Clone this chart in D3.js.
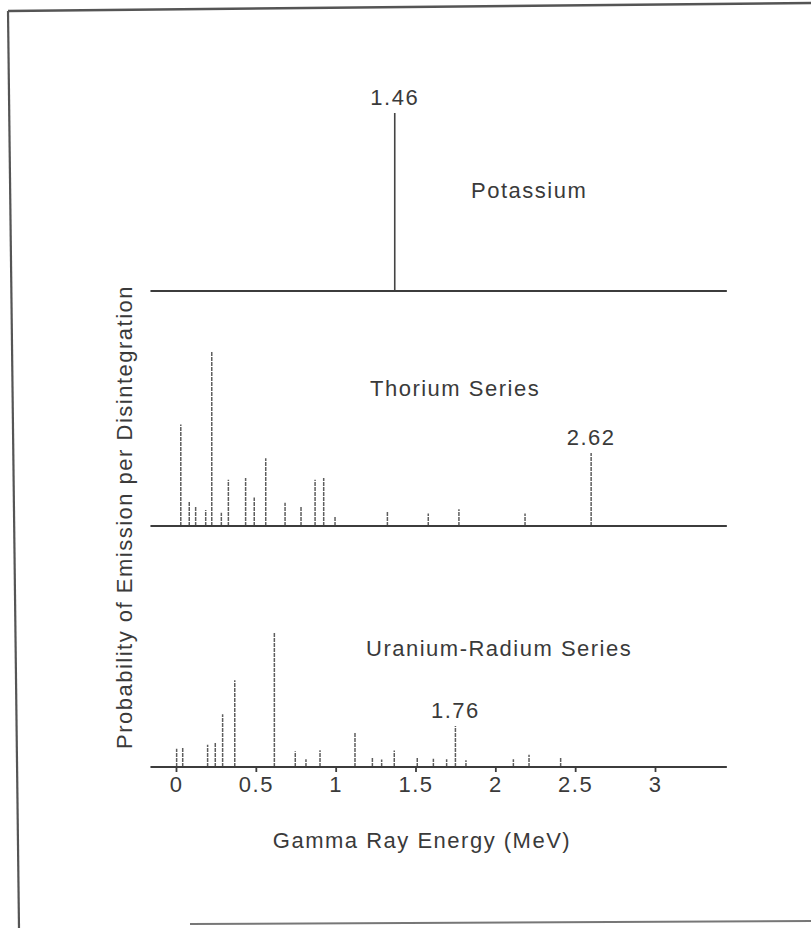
<!DOCTYPE html>
<html>
<head>
<meta charset="utf-8">
<script src="https://cdn.jsdelivr.net/npm/d3@7"></script>
<style>
  body { margin: 0; background: #fff; }
  text { font-family: "Liberation Sans", Arial, sans-serif; fill: #3a3a3a; }
  .label { font-size: 22px; letter-spacing: 1.5px; }
  .line { stroke: #5e5e5e; stroke-width: 1.5; stroke-dasharray: 4,1; }
  .solid { stroke: #444; stroke-width: 1.6; }
  .base { stroke: #3c3c3c; stroke-width: 2.2; }
</style>
</head>
<body>
<div id="chart"></div>
<script>
// energies (MeV) and relative emission probability
const potassiumE = [1.37];
const potassiumP = [100];

const thoriumE = [0.03, 0.083, 0.123, 0.186, 0.224, 0.284, 0.328, 0.436, 0.49, 0.562,
                  0.683, 0.783, 0.871, 0.925, 0.996, 1.324, 1.58, 1.772, 2.186, 2.60];
const thoriumP = [57, 14, 11, 9, 98, 7.5, 26, 27, 16, 38,
                  13, 11, 26, 27, 5.6, 8, 7, 9.4, 7, 41];

const uraniumE = [0.004, 0.042, 0.198, 0.246, 0.292, 0.368, 0.616, 0.747, 0.814, 0.902,
                  1.121, 1.23, 1.288, 1.367, 1.511, 1.612, 1.695, 1.75, 1.816, 2.113, 2.211, 2.409];
const uraniumP = [10.3, 10.7, 12.5, 13.7, 29.6, 48.7, 75.5, 8.8, 4.3, 9.4,
                  19.1, 5, 4.2, 9.3, 5.6, 4.7, 4.3, 23, 3.8, 4.3, 6.9, 5.1];

const panelNames = ["Potassium", "Thorium Series", "Uranium-Radium Series"];
const peakLabels = ["1.46", "2.62", "1.76"];
const peakEnergies = [1.37, 2.60, 1.75];
const energyTicks = [0, 0.5, 1, 1.5, 2, 2.5, 3];

const width = 811, height = 928;

const svg = d3.select("#chart")
    .append("svg")
    .attr("width", width)
    .attr("height", height);

// scanned page frame
svg.append("path").attr("d", "M8,11 L811,3").attr("stroke", "#555").attr("stroke-width", 2.5).attr("fill", "none");
svg.append("path").attr("d", "M8,11 L19,928").attr("stroke", "#555").attr("stroke-width", 2.2).attr("fill", "none");
svg.append("path").attr("d", "M190,924 L811,921").attr("stroke", "#777").attr("stroke-width", 2).attr("fill", "none");

let x = d3.scaleLinear()
    .domain([0, 3])
    .range([176, 655]);

const panels = [
    {e: potassiumE, p: potassiumP, base: 291, cls: "solid", titleX: 471, titleY: 198},
    {e: thoriumE, p: thoriumP, base: 526, cls: "line", titleX: 370, titleY: 396},
    {e: uraniumE, p: uraniumP, base: 767, cls: "line", titleX: 366, titleY: 656}
];

panels.forEach(function(pn, i){
    let y = d3.scaleLinear()
        .domain([0, 100])
        .range([pn.base, pn.base - 178]);

    let g = svg.append("g");

    // emission lines
    g.selectAll(".peak")
        .data(pn.e.map((e, k) => ({e: e, p: pn.p[k]})))
        .join("line")
        .attr("class", pn.cls)
        .attr("x1", d => x(d.e))
        .attr("x2", d => x(d.e))
        .attr("y1", y(0))
        .attr("y2", d => y(d.p));

    // baseline
    g.append("line")
        .attr("class", "base")
        .attr("x1", x(-0.16))
        .attr("x2", x(3.45))
        .attr("y1", y(0))
        .attr("y2", y(0));

    // panel title
    g.append("text")
        .attr("class", "label")
        .attr("x", pn.titleX)
        .attr("y", pn.titleY)
        .text(panelNames[i]);

    // label of the main peak
    let k = pn.e.indexOf(peakEnergies[i]);
    g.append("text")
        .attr("class", "label")
        .attr("text-anchor", "middle")
        .attr("x", x(peakEnergies[i]))
        .attr("y", y(pn.p[k]) - 8)
        .text(peakLabels[i]);
});

// bottom axis
let axis = svg.append("g")
    .attr("transform", "translate(0, 767)")
    .call(d3.axisBottom(x).tickValues(energyTicks).tickSize(5).tickPadding(4)
        .tickFormat(d => String(d)));
axis.select(".domain").remove();
axis.selectAll("line").attr("stroke", "#3c3c3c").attr("stroke-width", 1.8);
axis.selectAll("text")
    .attr("class", "label")
    .style("font-size", "22px")
    .attr("fill", "#3a3a3a");

// axis titles
svg.append("text")
    .attr("class", "label")
    .attr("text-anchor", "middle")
    .attr("x", 422)
    .attr("y", 848)
    .text("Gamma Ray Energy (MeV)");

svg.append("text")
    .attr("class", "label")
    .attr("text-anchor", "middle")
    .attr("transform", "translate(132, 517) rotate(-90)")
    .text("Probability of Emission per Disintegration");
</script>
</body>
</html>
